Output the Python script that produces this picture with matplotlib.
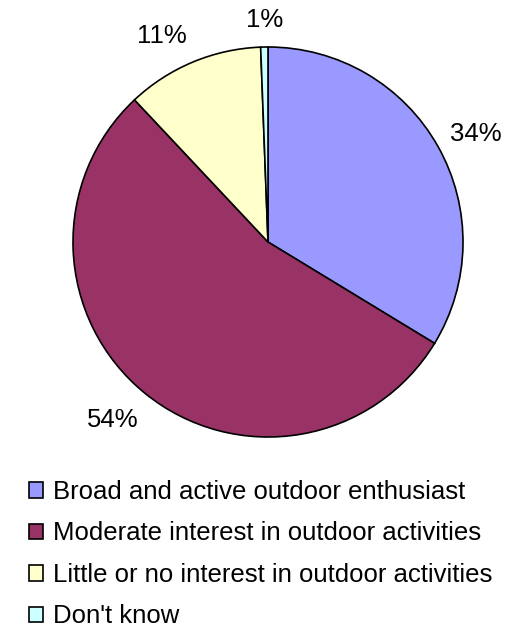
import matplotlib
matplotlib.use("Agg")
import matplotlib.pyplot as plt
import numpy as np

plt.rcParams["font.family"] = ["Liberation Sans", "DejaVu Sans"]

# shares
categories = [
    "Broad and active outdoor enthusiast",
    "Moderate interest in outdoor activities",
    "Little or no interest in outdoor activities",
    "Don't know",
]
shares = [33.7, 54.3, 11.4, 0.6]
pct_labels = [f"{v:.0f}%" for v in shares]
colors = ["#9999FF", "#993366", "#FFFFCC", "#CCFFFF"]

# label placement: radius (in pie radii) and angle nudge (deg) per slice
label_dist = [1.20, 1.21, 1.19, 1.14]
label_nudge = [-1.8, -2.0, 4.5, -0.3]

W, H = 519, 629
fig = plt.figure(figsize=(W / 100, H / 100), dpi=100)

cx, cy, r = 268, 242, 195
ax = fig.add_axes([(cx - r) / W, 1 - (cy + r) / H, 2 * r / W, 2 * r / H])

wedges, texts = ax.pie(
    shares,
    labels=pct_labels,
    colors=colors,
    startangle=90,
    counterclock=False,
    wedgeprops=dict(edgecolor="black", linewidth=1.2),
    textprops=dict(fontsize=18.5, color="black"),
    labeldistance=1.2,
)
ax.set_xlim(-1, 1)
ax.set_ylim(-1, 1)
ax.set_aspect("equal")

for w, t, d, nudge in zip(wedges, texts, label_dist, label_nudge):
    ang = np.deg2rad((w.theta1 + w.theta2) / 2 + nudge)
    t.set_position((d * np.cos(ang), d * np.sin(ang)))
    t.set_ha("center")
    t.set_va("center")

fig.legend(
    wedges,
    categories,
    loc="upper left",
    bbox_to_anchor=(29 / W, 1 - 480 / H),
    frameon=False,
    fontsize=18.5,
    handlelength=0.55,
    handleheight=0.55,
    handletextpad=0.4,
    labelspacing=0.68,
    borderpad=0,
    borderaxespad=0,
)

fig.savefig("out.png", dpi=100)
